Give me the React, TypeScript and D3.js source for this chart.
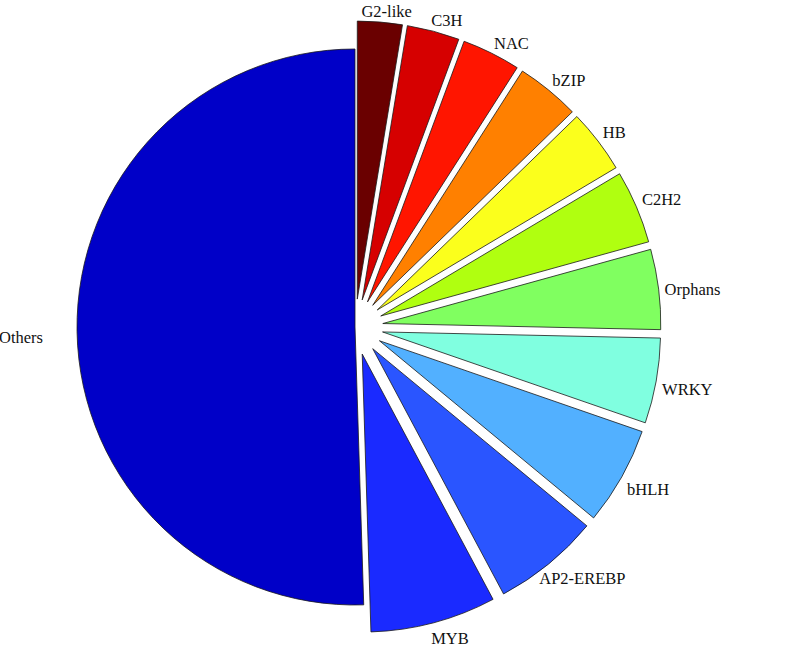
import { useEffect, useRef } from 'react'
import * as d3 from 'd3'

const families = ['G2-like', 'C3H', 'NAC', 'bZIP', 'HB', 'C2H2', 'Orphans', 'WRKY', 'bHLH', 'AP2-EREBP', 'MYB', 'Others']
const shares = [2.6, 3.05, 3.4, 3.7, 3.7, 4.25, 4.65, 4.95, 5.7, 6.2, 7.3, 50.5]
const colors = ['#6a0000', '#d60000', '#ff1500', '#ff8000', '#fbff1c', '#b0ff10', '#80ff60', '#80ffe0', '#52b0ff', '#2a55ff', '#1a2aff', '#0000c8']
const exploded = [true, true, true, true, true, true, true, true, true, true, true, false]

export default function App() {
    const svgRef = useRef<SVGSVGElement>(null)

    useEffect(() => {
        const svg = d3.select(svgRef.current)
        svg.selectAll('*').remove()
        const width = 794
        const height = 648
        const cx = 355
        const cy = 327
        const radius = 278
        const offset = 28
        const labelRadius = 312
        const labelShift = 5
        const pushUp = 9.5
        const pushDown = 5
        const maxPush = 30

        svg.append('rect').attr('width', width).attr('height', height).attr('fill', '#fff')

        const data = families.map((name, i) => ({ name, value: shares[i], color: colors[i], explode: exploded[i] }))
        const pie = d3.pie<any>()
            .sort(null)
            .value(d => d.value)
            .startAngle(0)
            .endAngle(2 * Math.PI)
        const arcs = pie(data)
        const arc = d3.arc<any>().innerRadius(0).outerRadius(radius)

        const g = svg.append('g').attr('transform', `translate(${cx},${cy})`)

        g.selectAll('.slice')
            .data(arcs)
            .enter().append('path')
            .attr('class', 'slice')
            .attr('d', arc)
            .attr('fill', d => d.data.color)
            .attr('stroke', '#1a1a1a')
            .attr('stroke-width', 0.8)
            .attr('stroke-linejoin', 'round')
            .attr('transform', d => {
                if (!d.data.explode) return null
                const mid = (d.startAngle + d.endAngle) / 2
                return `translate(${offset * Math.sin(mid)},${-offset * Math.cos(mid)})`
            })

        const clamp = (v: number) => Math.max(-1, Math.min(1, v))

        // labels sit just outside a ring, aligned away from the pie
        g.selectAll('.label')
            .data(arcs)
            .enter().append('text')
            .attr('class', 'label')
            .attr('text-anchor', 'middle')
            .attr('dominant-baseline', 'central')
            .style('font-family', '"Liberation Serif", "Times New Roman", serif')
            .style('font-size', '16.5px')
            .attr('fill', '#111')
            .text(d => d.data.name)
            .each(function (d) {
                const mid = (d.startAngle + d.endAngle) / 2
                const w = (this as SVGTextElement).getComputedTextLength()
                const ax = labelRadius * Math.sin(mid)
                const ay = labelShift - labelRadius * Math.cos(mid)
                const push = Math.min(w / 2, maxPush)
                const vert = clamp(3 * Math.cos(mid))
                d3.select(this)
                    .attr('x', ax + push * clamp(3 * Math.sin(mid)))
                    .attr('y', ay - vert * (vert > 0 ? pushUp : pushDown))
            })
    }, [])

    return (
        <svg
            ref={svgRef}
            width={794}
            height={648}
            style={{ position: 'absolute', left: 0, top: 0, display: 'block' }}
        />
    )
}
